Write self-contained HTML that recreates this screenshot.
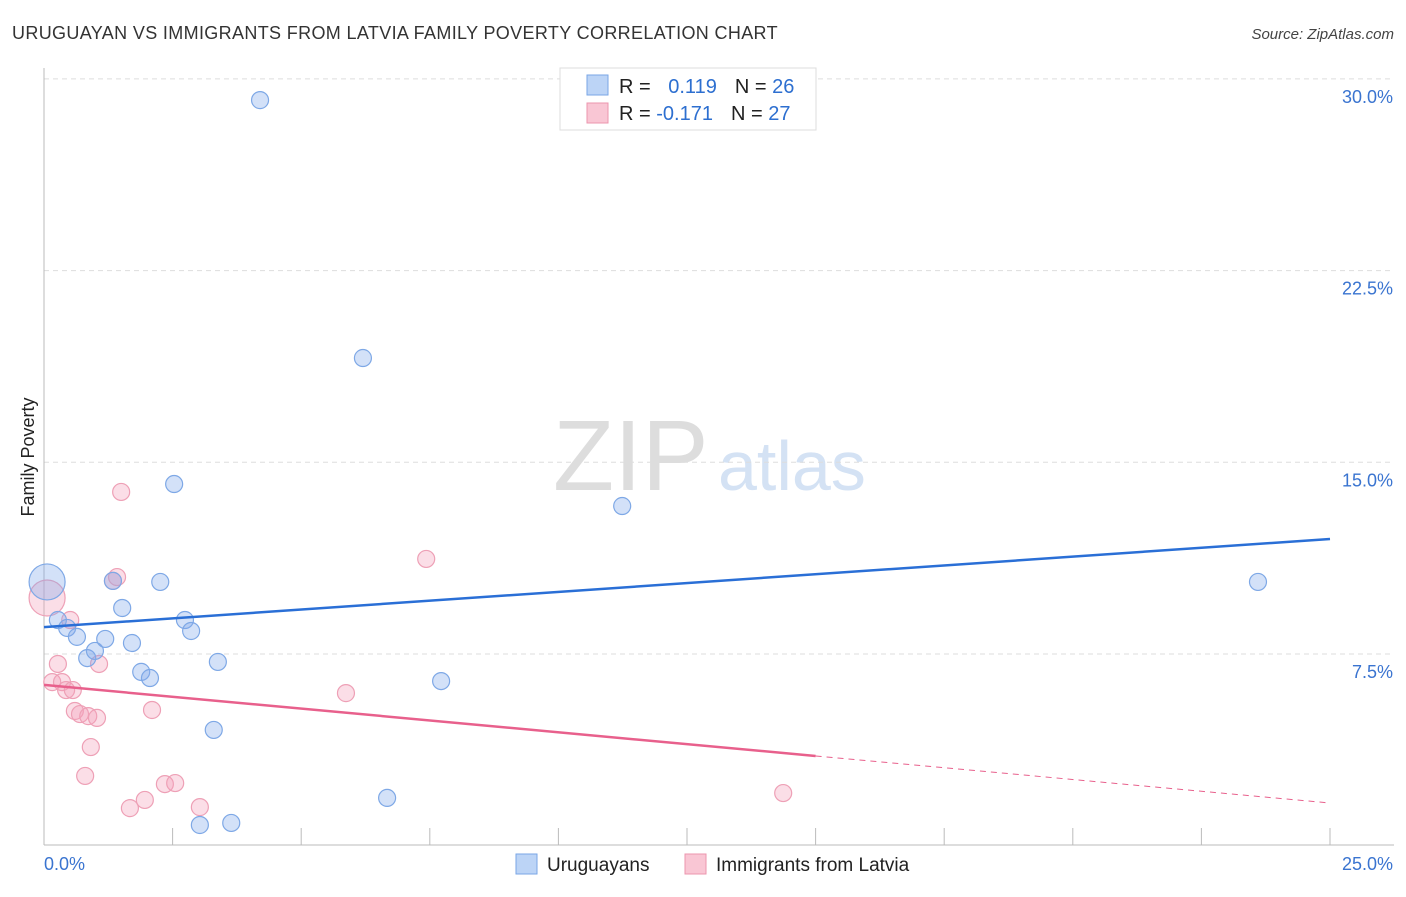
<!DOCTYPE html>
<html><head><meta charset="utf-8"><style>
body{margin:0;background:#fff;font-family:"Liberation Sans",sans-serif}
svg text{font-family:"Liberation Sans",sans-serif}
</style></head><body>
<svg id="chart" width="1406" height="892">
<text x="12" y="39" font-size="18" letter-spacing="0.35" fill="#333">URUGUAYAN VS IMMIGRANTS FROM LATVIA FAMILY POVERTY CORRELATION CHART</text>
<text x="1394" y="39" font-size="15" fill="#444" font-style="italic" text-anchor="end">Source: ZipAtlas.com</text>
<text x="553" y="490" font-size="100" fill="#ddd" font-family="Liberation Serif">ZIP</text>
<text x="718" y="490" font-size="70" fill="#d4e2f4">atlas</text>
<g id="grid"></g><g id="axes"></g><g id="pts"></g><g id="trend"></g>
<text transform="translate(34,457) rotate(-90)" font-size="18" fill="#222" text-anchor="middle">Family Poverty</text>
<g>
<rect x="560" y="68" width="256" height="62" fill="#fff" stroke="#ddd"/>
<rect x="587" y="75" width="21" height="20" fill="#bcd4f6" stroke="#7aa6e6"/>
<rect x="587" y="103" width="21" height="20" fill="#f9c6d4" stroke="#ec95ae"/>
<text x="619" y="93" font-size="20" fill="#222">R = <tspan fill="#2d6fd0" dx="12">0.119</tspan><tspan dx="18" fill="#222">N = </tspan><tspan fill="#2d6fd0">26</tspan></text>
<text x="619" y="120" font-size="20" fill="#222">R = <tspan fill="#2d6fd0">-0.171</tspan><tspan dx="18" fill="#222">N = </tspan><tspan fill="#2d6fd0">27</tspan></text>
</g>
<g>
<rect x="516" y="854" width="21" height="20" fill="#bcd4f6" stroke="#7aa6e6"/>
<text x="547" y="871" font-size="19" fill="#222">Uruguayans</text>
<rect x="685" y="854" width="21" height="20" fill="#f9c6d4" stroke="#ec95ae"/>
<text x="716" y="871" font-size="19" fill="#222">Immigrants from Latvia</text>
</g>
</svg>
<script>
const xTicks=[0,2.5,5,7.5,10,12.5,15,17.5,20,22.5,25];
const yTicks=[7.5,15,22.5,30];
const yTickLabels=["7.5%","15.0%","22.5%","30.0%"];
const blueX=[0.06,0.27,0.45,0.64,0.84,0.99,1.19,1.34,1.52,1.71,1.89,2.06,2.26,2.53,2.74,2.86,3.03,3.38,3.30,3.64,4.20,6.20,6.67,7.72,11.24,23.60];
const blueY=[10.32,8.83,8.52,8.17,7.34,7.62,8.09,10.36,9.30,7.93,6.80,6.56,10.32,14.15,8.83,8.40,0.81,7.19,4.53,0.89,29.17,19.08,1.87,6.44,13.29,10.32];
const pinkX=[0.06,0.16,0.27,0.35,0.43,0.51,0.56,0.60,0.70,0.80,0.86,0.91,1.03,1.07,1.34,1.42,1.50,1.67,1.96,2.10,2.35,2.55,3.03,5.87,7.43,14.37];
const pinkY=[9.69,6.40,7.11,6.40,6.09,8.83,6.09,5.27,5.15,2.73,5.07,3.86,5.00,7.11,10.36,10.51,13.84,1.47,1.79,5.31,2.41,2.45,1.51,5.97,11.22,2.06];
const blueTrend=[8.55,12.0];
const pinkTrend=[6.29,3.51,1.67];
const X=v=>44+v*51.44, Y=v=>845.7-v*25.56;
const NS="http://www.w3.org/2000/svg";
function mk(tag,attrs,parent){const e=document.createElementNS(NS,tag);for(const k in attrs)e.setAttribute(k,attrs[k]);document.getElementById(parent).appendChild(e);return e;}
yTicks.forEach((t,i)=>{
 const l=mk('line',{x1:44,x2:1394,y1:Y(t),y2:Y(t),stroke:'#ddd','stroke-dasharray':'5,4'},'grid');
 
 
 const tx=mk('text',{x:1393,y:Y(t)+24,'font-size':18,fill:'#3a74d0','text-anchor':'end'},'grid');
 tx.textContent=yTickLabels[i];
 
 
});
let a=mk('line',{x1:44,x2:44,y1:68,y2:845,stroke:'#bbb'},'axes');


a=mk('line',{x1:44,x2:1394,y1:845,y2:845,stroke:'#bbb'},'axes');


xTicks.forEach(t=>{const l=mk('line',{x1:X(t),x2:X(t),y1:828,y2:845,stroke:'#bbb'},'axes');
 
 });
let t0=mk('text',{x:44,y:870,'font-size':18,fill:'#3a74d0'},'axes');t0.textContent='0.0%';


let t1=mk('text',{x:1393,y:870,'font-size':18,fill:'#3a74d0','text-anchor':'end'},'axes');t1.textContent='25.0%';


function pts(xs,ys,fill,stroke,name){xs.forEach((x,i)=>{const c=mk('circle',{cx:X(x),cy:Y(ys[i]),r:i===0?18:8.5,fill:fill,stroke:stroke,'stroke-width':1.2},'pts');
 
 });}
pts(pinkX,pinkY,'rgba(244,160,185,0.35)','#eea0b6','point-latvia');
pts(blueX,blueY,'rgba(130,170,235,0.35)','#7ea8e6','point-uruguayan');
let b=mk('line',{x1:X(0),y1:Y(blueTrend[0]),x2:X(25),y2:Y(blueTrend[1]),stroke:'#2a6fd6','stroke-width':2.5},'trend');


let p=mk('line',{x1:X(0),y1:Y(pinkTrend[0]),x2:X(15),y2:Y(pinkTrend[1]),stroke:'#e8608c','stroke-width':2.5},'trend');


let pd=mk('line',{x1:X(15),y1:Y(pinkTrend[1]),x2:X(25),y2:Y(pinkTrend[2]),stroke:'#e8608c','stroke-width':1,'stroke-dasharray':'6,5'},'trend');


</script>
</body></html>
